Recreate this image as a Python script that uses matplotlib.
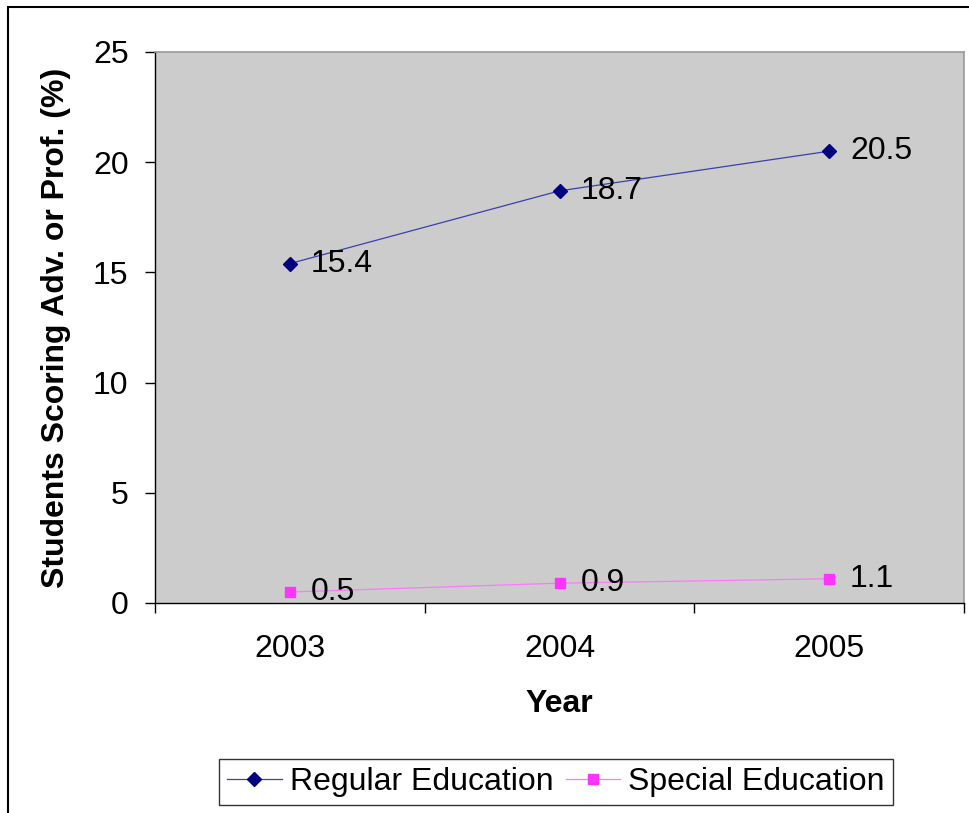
import matplotlib
matplotlib.use("Agg")
import matplotlib.pyplot as plt
from matplotlib.patches import Rectangle
from matplotlib.ticker import FixedLocator, NullFormatter

plt.rcParams['font.family'] = ['Liberation Sans', 'DejaVu Sans']

years = ["2003", "2004", "2005"]
regular = [15.4, 18.7, 20.5]
special = [0.5, 0.9, 1.1]
yticks = [0, 5, 10, 15, 20, 25]

FS = 23
W, H = 969, 813
fig = plt.figure(figsize=(W / 100, H / 100), dpi=100)
fig.patch.set_facecolor('white')

# outer frame of chart
fig.add_artist(Rectangle((8 / W, -0.01), 1.2, 1 - 7 / H + 0.01, transform=fig.transFigure,
                         fill=False, edgecolor='black', linewidth=1.5))

ax = fig.add_axes([155 / W, 1 - 603 / H, (964 - 155) / W, (603 - 52) / H])
ax.set_facecolor('#CCCCCC')
x = list(range(len(years)))
ax.plot(x, regular, color='#3B3FB0', linewidth=0.9, marker='D', markersize=7.5,
        markerfacecolor='#000080', markeredgecolor='#000080', label='Regular Education', zorder=3)
ax.plot(x, special, color='#FF77FF', linewidth=0.9, marker='s', markersize=7.5,
        markerfacecolor='#FF33FF', markeredgecolor='#FF33FF', label='Special Education', zorder=3)

for xi, v in zip(x, regular):
    ax.annotate(f"{v}", (xi, v), xytext=(15, 0), textcoords='offset points',
                va='center', ha='left', fontsize=FS)
for xi, v in zip(x, special):
    ax.annotate(f"{v}", (xi, v), xytext=(15, 0), textcoords='offset points',
                va='center', ha='left', fontsize=FS)

ax.set_xlim(-0.5, 2.5)
ax.set_ylim(0, 25)
ax.set_yticks(yticks)
ax.set_yticklabels([str(t) for t in yticks], fontsize=FS)
ax.tick_params(axis='y', length=7, width=1, pad=12)

ax.xaxis.set_major_locator(FixedLocator([-0.5, 0.5, 1.5, 2.5]))
ax.xaxis.set_major_formatter(NullFormatter())
ax.xaxis.set_minor_locator(FixedLocator(x))
ax.set_xticklabels(years, minor=True, fontsize=FS)
ax.tick_params(axis='x', which='major', length=7, width=1)
ax.tick_params(axis='x', which='minor', length=0, pad=22)

for s in ['top', 'right']:
    ax.spines[s].set_color('#999999')
    ax.spines[s].set_linewidth(1.2)
for s in ['left', 'bottom']:
    ax.spines[s].set_color('black')
    ax.spines[s].set_linewidth(1)

ax.set_xlabel('Year', fontsize=FS, fontweight='bold', labelpad=18)
ax.set_ylabel('Students Scoring Adv. or Prof. (%)', fontsize=FS, fontweight='bold', labelpad=16)

leg = fig.legend(loc='center', bbox_to_anchor=(556 / W, 1 - 782 / H), ncol=2, fontsize=FS,
                 frameon=True, fancybox=False, edgecolor='black', handlelength=1.7,
                 handletextpad=0.25, columnspacing=0.4, borderpad=0.25, borderaxespad=0)
leg.get_frame().set_linewidth(1)

fig.savefig('out.png', dpi=100)
